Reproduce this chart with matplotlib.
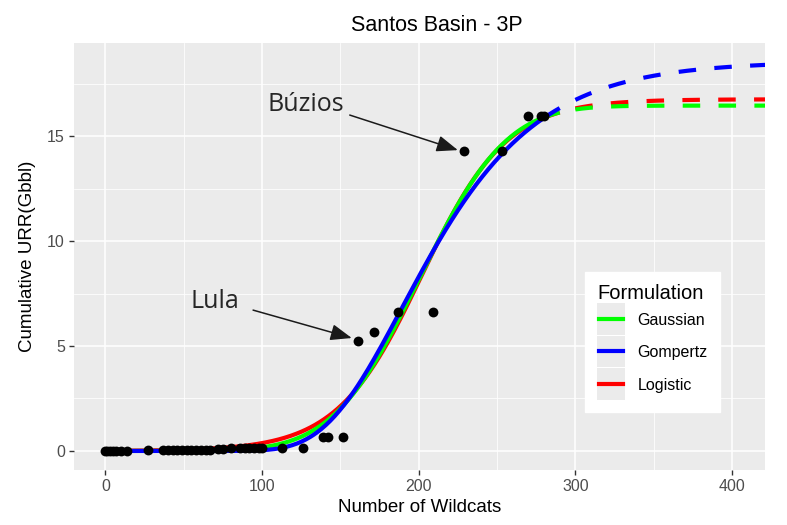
import math
import numpy as np
import matplotlib
matplotlib.use("Agg")
import matplotlib.pyplot as plt
from matplotlib.lines import Line2D
from matplotlib.patches import Rectangle
from matplotlib.legend_handler import HandlerBase

plt.rcParams["font.family"] = ["Liberation Sans", "DejaVu Sans"]

# Discoveries: cumulative URR (Gbbl) against number of wildcats
wildcats = [0, 1, 3, 5, 7, 10, 14, 27, 37, 40, 43, 46, 49, 52, 55, 58, 61, 64, 67,
            72, 75, 80, 86, 89, 92, 95, 98, 100, 113, 126, 139, 142, 152,
            161, 171.5, 187, 209, 229, 253, 269.5, 278, 280]
urr = [0.0, 0.0, 0.0, 0.0, 0.0, 0.02, 0.02, 0.05, 0.05, 0.05, 0.05, 0.05, 0.05, 0.05,
       0.05, 0.05, 0.05, 0.05, 0.05, 0.08, 0.08, 0.15, 0.12, 0.12, 0.12, 0.12, 0.12, 0.12,
       0.15, 0.15, 0.65, 0.65, 0.65,
       5.24, 5.65, 6.6, 6.6, 14.28, 14.28, 15.95, 15.95, 15.95]

# Fitted model parameters: ultimate URR, centre and width
gauss_k, gauss_mu, gauss_sigma = 16.45, 200.5, 43.5
gomp_k, gomp_x0, gomp_s = 18.55, 189.4, 48.8
logi_k, logi_x0, logi_s = 16.75, 202.0, 27.0

fit_end = 290      # last wildcat of the fitted range
proj_start = 300   # projection starts here
proj_end = 425

erf = np.vectorize(math.erf)


def gaussian(x):
    return gauss_k * 0.5 * (1 + erf((x - gauss_mu) / (gauss_sigma * math.sqrt(2))))


def gompertz(x):
    return gomp_k * np.exp(-np.exp(-(x - gomp_x0) / gomp_s))


def logistic(x):
    return logi_k / (1 + np.exp(-(x - logi_x0) / logi_s))


models = [("Gaussian", gaussian, "#00FF00"),
          ("Gompertz", gompertz, "#0000FF"),
          ("Logistic", logistic, "#FF0000")]

fig = plt.figure(figsize=(7.87, 5.25), dpi=100)
ax = fig.add_axes([0.094, 0.105, 0.878, 0.813])
ax.set_facecolor("#EBEBEB")
for s in ax.spines.values():
    s.set_visible(False)

x_fit = np.linspace(0, fit_end, 300)
x_proj = np.linspace(proj_start, proj_end, 150)
# logistic underneath, then gaussian, gompertz on top
for name, f, col in [models[2], models[0], models[1]]:
    ax.plot(x_fit, f(x_fit), color=col, lw=3.0, solid_capstyle="butt", zorder=3)
    ax.plot(x_proj, f(x_proj), color=col, lw=3.0, dashes=(4.2, 4.4),
            dash_capstyle="butt", zorder=3)

ax.scatter(wildcats, urr, s=50, color="black", zorder=4, linewidths=0)

ax.set_xlim(-20, 421)
ax.set_ylim(-0.9, 19.43)
ax.set_xticks([0, 100, 200, 300, 400])
ax.set_xticks([50, 150, 250, 350], minor=True)
ax.set_yticks([0, 5, 10, 15])
ax.set_yticks([2.5, 7.5, 12.5, 17.5], minor=True)
ax.grid(which="major", color="white", lw=1.1)
ax.grid(which="minor", color="white", lw=0.55)
ax.set_axisbelow(True)
ax.tick_params(which="major", length=3.5, width=1.0, color="#333333",
               labelsize=11.5, labelcolor="#4D4D4D", pad=3)
ax.tick_params(which="minor", length=0)

ax.set_xlabel("Number of Wildcats", fontsize=13.5, labelpad=4)
ax.set_ylabel("Cumulative URR(Gbbl)", fontsize=13.5, labelpad=8)
ax.set_title("Santos Basin - 3P", fontsize=15.5, x=0.525, pad=9)

# field call-outs
note_font = ["Open Sans", "DejaVu Sans"]
head = "-|>,head_length=1.3,head_width=0.5"
ax.annotate("", xy=(225, 14.33), xytext=(156, 16.0),
            arrowprops=dict(arrowstyle=head, color="#1A1A1A", lw=1.1,
                            shrinkA=0, shrinkB=0))
ax.text(128, 16.48, "Búzios", fontsize=18, ha="center", va="center",
        family=note_font, color="#262626")
ax.annotate("", xy=(157.3, 5.38), xytext=(94.3, 6.71),
            arrowprops=dict(arrowstyle=head, color="#1A1A1A", lw=1.1,
                            shrinkA=0, shrinkB=0))
ax.text(70, 7.1, "Lula", fontsize=18, ha="center", va="center",
        family=note_font, color="#262626")


class KeyHandler(HandlerBase):
    # grey key square with the line centred on the label
    def create_artists(self, legend, orig_handle, xdescent, ydescent,
                       width, height, fontsize, trans):
        ymid = 0.36 * fontsize
        box_h = 1.95 * fontsize
        bg = Rectangle((-xdescent, ymid - box_h / 2), width, box_h,
                       facecolor="#EBEBEB", edgecolor="none", transform=trans)
        line = Line2D([-xdescent + 0.08 * width, -xdescent + 0.92 * width],
                      [ymid, ymid], color=orig_handle.get_color(),
                      lw=orig_handle.get_linewidth(), transform=trans)
        return [bg, line]


handles = [Line2D([], [], color=col, lw=3.0) for _, _, col in models]
labels = [name for name, _, _ in models]
leg = ax.legend(handles, labels, title="Formulation", loc="upper left",
                bbox_to_anchor=(0.7395, 0.464), borderaxespad=0,
                fontsize=11.5, title_fontsize=14.5,
                frameon=True, fancybox=False, edgecolor="white", facecolor="white",
                framealpha=1, handlelength=1.75, handleheight=2.6, labelspacing=0.1,
                handletextpad=0.8, borderpad=0.75,
                handler_map={Line2D: KeyHandler()})
leg._legend_box.align = "left"
leg.set_zorder(5)

fig.savefig("out.png", dpi=100)
